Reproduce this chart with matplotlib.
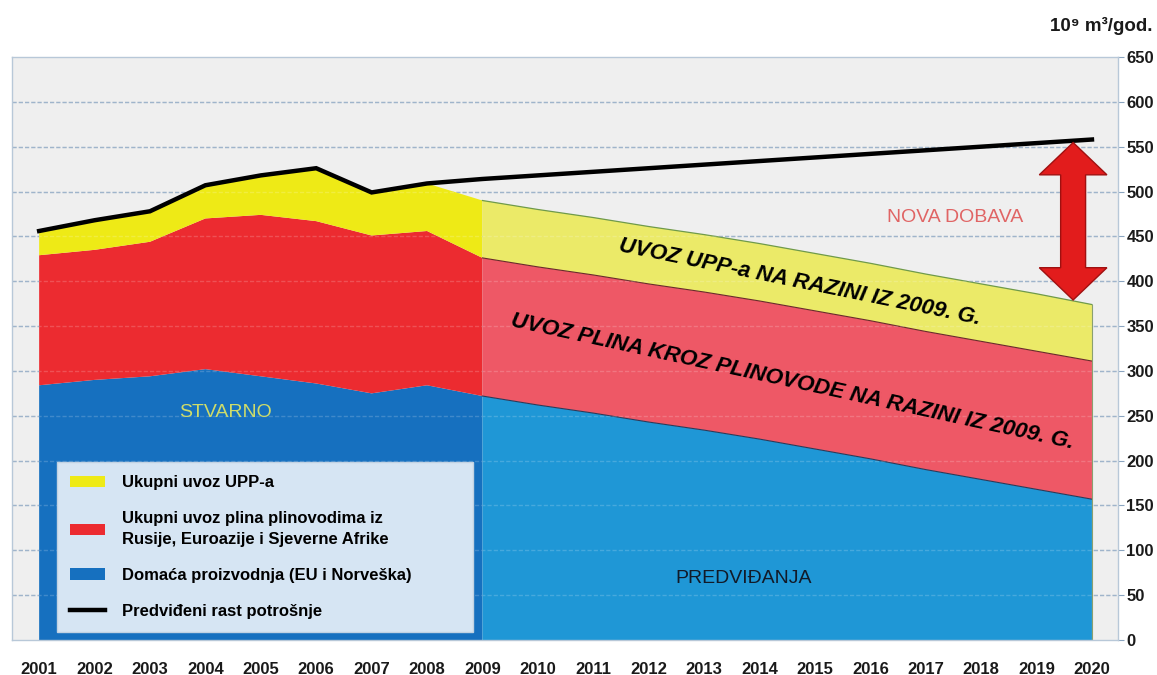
import numpy as np
import matplotlib
matplotlib.use("Agg")
import matplotlib.pyplot as plt
from matplotlib.patches import Patch, Polygon
from matplotlib.lines import Line2D

plt.rcParams['font.family'] = ['Liberation Sans', 'DejaVu Sans']

# ---------------- data ----------------
years_hist = [2001, 2002, 2003, 2004, 2005, 2006, 2007, 2008, 2009]
domestic_hist = [284, 290, 294, 302, 294, 286, 275, 284, 272]
pipeline_hist = [145, 145, 150, 168, 180, 181, 176, 172, 154]
lng_hist = [27, 33, 34, 37, 44, 59, 48, 53, 64]

years_fc = [2009, 2010, 2011, 2012, 2013, 2014, 2015, 2016, 2017, 2018, 2019, 2020]
domestic_fc = [272, 262, 253, 243, 234, 224, 213, 202, 190, 179, 168, 157]
pipeline_fc = [154, 154, 154, 154, 154, 154, 154, 154, 154, 154, 154, 154]
lng_fc = [64, 64, 64, 64, 64, 64, 64, 64, 64, 64, 64, 63]

years_all = list(range(2001, 2021))
consumption = [456, 468, 478, 507, 518, 526, 499, 509, 514, 518, 522, 526,
               530, 534, 538, 542, 546, 550, 554, 558]

y_ticks = list(range(0, 651, 50))

legend_labels = ["Ukupni uvoz UPP-a",
                 "Ukupni uvoz plina plinovodima iz\nRusije, Euroazije i Sjeverne Afrike",
                 "Domaća proizvodnja (EU i Norveška)",
                 "Predviđeni rast potrošnje"]

# ---------------- colours ----------------
c_yel_h, c_red_h, c_blu_h = "#eeea16", "#ec2b30", "#1670bf"
c_yel_f, c_red_f, c_blu_f = "#ebea68", "#ee5866", "#1f97d6"
grid_c = "#8aa4c0"

fig = plt.figure(figsize=(11.57, 6.75), dpi=100)
ax = fig.add_axes([12/1157, 35/675, 1106/1157, 583/675])
ax.set_facecolor("#efefef")

ax.set_xlim(2000.51, 2020.47)
ax.set_ylim(0, 650)

# grid below
for v in y_ticks[1:-1]:
    ax.axhline(v, color=grid_c, lw=1.0, ls=(0, (3, 1.5)), zorder=0.5)

ax.stackplot(years_hist, domestic_hist, pipeline_hist, lng_hist,
             colors=[c_blu_h, c_red_h, c_yel_h], zorder=1, lw=0)
ax.stackplot(years_fc, domestic_fc, pipeline_fc, lng_fc,
             colors=[c_blu_f, c_red_f, c_yel_f], zorder=1, lw=0)

# thin boundary lines of forecast layers
b1 = np.array(domestic_fc)
b2 = b1 + np.array(pipeline_fc)
b3 = b2 + np.array(lng_fc)
ax.plot(years_fc, b1, color="#2a3a5a", lw=0.8, zorder=1.2)
ax.plot(years_fc, b2, color="#6a2a2a", lw=0.8, zorder=1.2)
ax.plot(years_fc, b3, color="#6f9a4a", lw=0.9, zorder=1.2)
ax.plot([years_fc[-1], years_fc[-1]], [0, b3[-1]], color="#8aa070", lw=0.8, zorder=1.2)

# faint grid on top of areas
for v in y_ticks[1:-1]:
    ax.axhline(v, color="#ffffff", lw=1.0, ls=(0, (3, 1.5)), alpha=0.18, zorder=1.5)

ax.plot(years_all, consumption, color="black", lw=3.2, zorder=3,
        solid_joinstyle="miter")

# double-headed arrow between consumption and 2020 supply
ax_x = 2019.66
y_top = np.interp(ax_x, years_all, consumption) - 2
y_bot = np.interp(ax_x, years_fc, b3) + 1
hw, sw, hl = 0.61, 0.225, 36
pts = [(ax_x, y_top), (ax_x + hw, y_top - hl), (ax_x + sw, y_top - hl),
       (ax_x + sw, y_bot + hl), (ax_x + hw, y_bot + hl), (ax_x, y_bot),
       (ax_x - hw, y_bot + hl), (ax_x - sw, y_bot + hl), (ax_x - sw, y_top - hl),
       (ax_x - hw, y_top - hl)]
ax.add_patch(Polygon(pts, closed=True, facecolor="#e21c1c", edgecolor="#a01010",
                     lw=1.0, zorder=4))

# texts
ax.text(2004.37, 254, "STVARNO", color="#cedc6a", fontsize=14,
        ha="center", va="center", zorder=5)
ax.text(2013.72, 69, "PREDVIĐANJA", color="#121a28", fontsize=14,
        ha="center", va="center", zorder=5)
ax.text(2017.53, 471.6, "NOVA DOBAVA", color="#e06464", fontsize=14,
        ha="center", va="center", zorder=5)
ax.text(2014.72, 399, "UVOZ UPP-a NA RAZINI IZ 2009. G.", fontsize=16,
        fontweight="bold", fontstyle="italic", rotation=-11.5,
        rotation_mode="anchor", ha="center", va="center", zorder=5)
ax.text(2014.6, 287.6, "UVOZ PLINA KROZ PLINOVODE NA RAZINI IZ 2009. G.",
        fontsize=16, fontweight="bold", fontstyle="italic", rotation=-12.3,
        rotation_mode="anchor", ha="center", va="center", zorder=5)

# axes styling
ax.set_xticks(years_all)
ax.set_xticklabels([str(y) for y in years_all], fontsize=12, fontweight="bold",
                   color="#1a1a1a")
ax.tick_params(axis="x", length=0, pad=16)
ax.yaxis.tick_right()
ax.set_yticks(y_ticks)
ax.set_yticklabels([str(v) for v in y_ticks], fontsize=12, fontweight="bold",
                   color="#1a1a1a")
ax.tick_params(axis="y", length=4, color=grid_c, pad=2)
for s in ax.spines.values():
    s.set_color("#b8c8d8")
    s.set_linewidth(1.0)

fig.text(1152/1157, 1 - 26/675, "10⁹ m³/god.", fontsize=13.5, fontweight="bold",
         ha="right", va="center", color="#1a1a1a")

handles = [Patch(facecolor=c_yel_h, edgecolor="none"),
           Patch(facecolor=c_red_h, edgecolor="none"),
           Patch(facecolor=c_blu_h, edgecolor="none"),
           Line2D([0], [0], color="black", lw=3.2)]
x0 = (57 - 12) / 1106
y1 = (640 - 462) / 583
w = (473 - 57) / 1106
leg = ax.legend(handles, legend_labels, loc="upper left",
                bbox_to_anchor=(x0, y1 - 0.3, w, 0.3), mode="expand",
                borderaxespad=0, prop={"weight": "bold", "size": 12},
                handlelength=2.1, handleheight=0.7, handletextpad=1.0,
                labelspacing=1.25, borderpad=0.8, fancybox=False,
                facecolor="#d6e5f3", edgecolor="#c2d2e2", framealpha=1)
for t in leg.get_texts():
    t.set_linespacing(1.5)
leg.set_zorder(6)

fig.savefig("out.png", dpi=100, facecolor="white")
